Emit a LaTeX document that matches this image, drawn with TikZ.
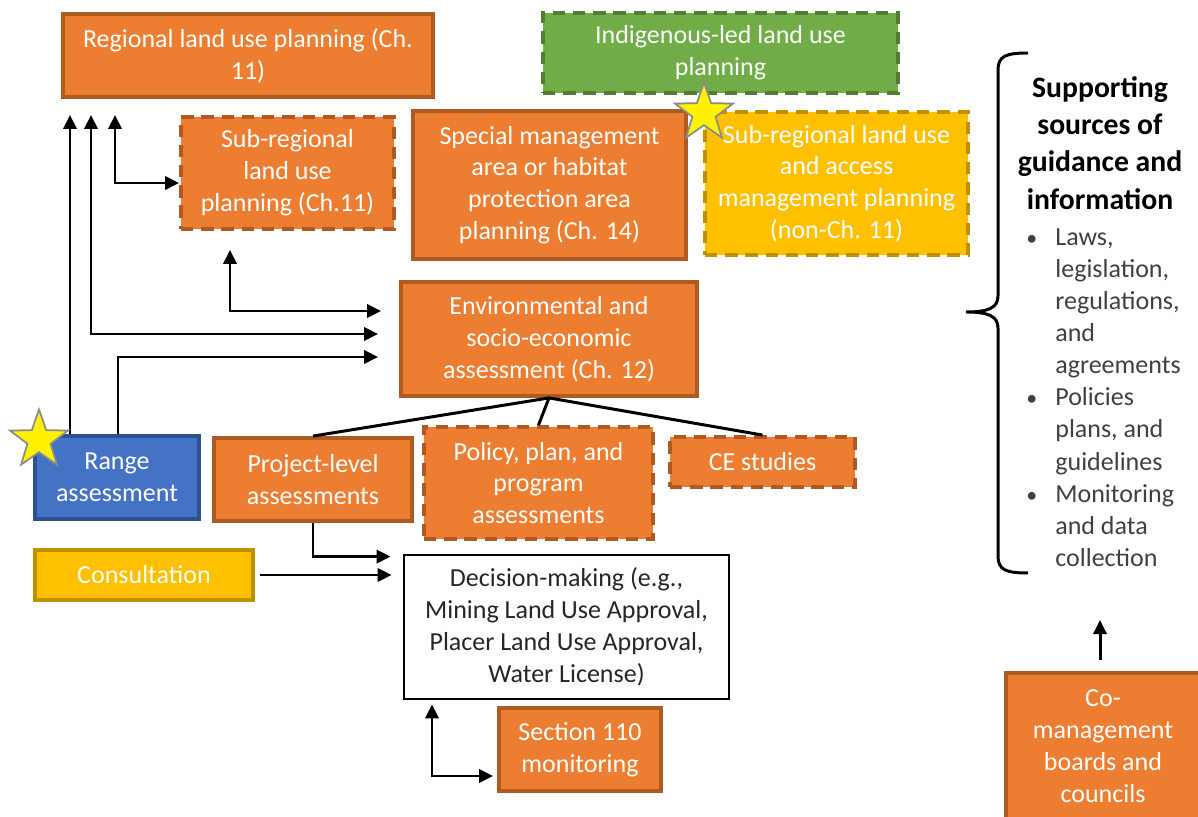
\documentclass[tikz,border=0pt]{standalone}
\usepackage{fontspec}
\setmainfont{Carlito}
\usetikzlibrary{arrows.meta, shapes.geometric}
\definecolor{boxorange}{HTML}{ED7D31}
\definecolor{edgeorange}{HTML}{AE5A21}
\definecolor{boxgreen}{HTML}{70AD47}
\definecolor{edgegreen}{HTML}{507E32}
\definecolor{boxyellow}{HTML}{FFC000}
\definecolor{edgeyellow}{HTML}{BF9000}
\definecolor{boxblue}{HTML}{4472C4}
\definecolor{edgeblue}{HTML}{2F528F}
\definecolor{listgray}{HTML}{404040}

\begin{document}
\begin{tikzpicture}[x=0.02cm, y=-0.02cm,
  box/.style={rectangle, inner sep=0pt, align=center, text=white,
    font=\fontsize{14.8}{18.1}\selectfont, line width=2.2pt},
  solidorange/.style={box, fill=boxorange, draw=edgeorange},
  dashorange/.style={solidorange, dash pattern=on 7pt off 4.5pt},
  dashgreen/.style={box, fill=boxgreen, draw=edgegreen, dash pattern=on 7pt off 4.5pt},
  dashyellow/.style={box, fill=boxyellow, draw=edgeyellow, dash pattern=on 7pt off 4.5pt},
  solidyellow/.style={box, fill=boxyellow, draw=edgeyellow},
  solidblue/.style={box, fill=boxblue, draw=edgeblue},
  plainbox/.style={box, fill=white, draw=black, text=black!85, line width=1.6pt},
  marker/.style={star, star points=5, star point ratio=2.5, minimum size=1.22cm,
    inner sep=0pt, fill=yellow, draw=black!45, line width=1pt},
  arr/.style={-{Triangle[length=8pt,width=7.5pt]}, line width=1.7pt},
  twoway/.style={{Triangle[length=8pt,width=7.5pt]}-{Triangle[length=8pt,width=7.5pt]}, line width=1.7pt},
  link/.style={line width=1.7pt}]
  \useasboundingbox (0,0) rectangle (1198,817);

  % planning boxes
  \node[solidorange, minimum width=7.4cm, minimum height=1.66cm] (regional) at (248,55.5) {Regional land use planning (Ch.\\11)};
  \node[dashgreen, minimum width=7.1cm, minimum height=1.6cm] (indig) at (720.5,53) {Indigenous-led land use\\planning};
  \node[dashorange, minimum width=4.26cm, minimum height=2.24cm] (subreg) at (287.5,173) {Sub-regional\\land use\\planning (Ch.11)};
  \node[solidorange, minimum width=5.46cm, minimum height=2.96cm] (special) at (549.5,185) {Special management\\area or habitat\\protection area\\planning (Ch. 14)};
  \node[dashyellow, minimum width=5.26cm, minimum height=2.86cm] (subaccess) at (836.5,183.5) {Sub-regional land use\\and access\\management planning\\(non-Ch. 11)};

  % assessment boxes
  \node[solidorange, minimum width=5.92cm, minimum height=2.28cm] (envassess) at (549,339) {Environmental and\\socio-economic\\assessment (Ch. 12)};
  \node[solidblue, minimum width=3.28cm, minimum height=1.66cm] (range) at (117,477.5) {Range\\assessment};
  \node[solidorange, minimum width=3.96cm, minimum height=1.66cm] (project) at (313,479.5) {Project-level\\assessments};
  \node[dashorange, minimum width=4.58cm, minimum height=2.24cm] (policy) at (538.5,483) {Policy, plan, and\\program\\assessments};
  \node[dashorange, minimum width=3.7cm, minimum height=1cm] (cestudies) at (762.5,462) {CE studies};

  % decisions
  \node[solidyellow, minimum width=4.36cm, minimum height=1cm] (consult) at (144,575) {Consultation};
  \node[plainbox, minimum width=6.5cm, minimum height=2.88cm] (decision) at (566.5,627) {Decision-making (e.g.,\\Mining Land Use Approval,\\Placer Land Use Approval,\\Water License)};
  \node[solidorange, minimum width=3.24cm, minimum height=1.66cm] (sec110) at (580,749.5) {Section 110\\monitoring};
  \node[solidorange, minimum width=3.88cm, minimum height=2.92cm] (comgmt) at (1103,746) {Co-\\management\\boards and\\councils};

  % guidance side
  \node[align=center, font=\fontsize{16.9}{21.2}\selectfont\bfseries] (heading) at (1100,143) {Supporting\\sources of\\guidance and\\information};
  \node[anchor=north west, inner sep=0pt, align=left, text=listgray,
    font=\fontsize{14.8}{18.3}\selectfont] (sources) at (1026,228)
    {\makebox[0.58cm][l]{\fontsize{12.5}{12}\selectfont\textbullet}Laws,\\
     \hspace*{0.58cm}legislation,\\
     \hspace*{0.58cm}regulations,\\
     \hspace*{0.58cm}and\\
     \hspace*{0.58cm}agreements\\
     \makebox[0.58cm][l]{\fontsize{12.5}{12}\selectfont\textbullet}Policies\\
     \hspace*{0.58cm}plans, and\\
     \hspace*{0.58cm}guidelines\\
     \makebox[0.58cm][l]{\fontsize{12.5}{12}\selectfont\textbullet}Monitoring\\
     \hspace*{0.58cm}and data\\
     \hspace*{0.58cm}collection};
  \draw[line width=1.7pt] (1028,53) .. controls (1006,53) and (998,56) .. (998,70) -- (998,296)
    .. controls (998,308) and (988,312) .. (966,312)
    .. controls (988,312) and (998,316) .. (998,328) -- (998,556)
    .. controls (998,570) and (1006,573) .. (1028,573);

  % lanes and arrow ends
  \coordinate (lane70) at (70,0);
  \coordinate (lane91) at (91,0);
  \coordinate (lane115) at (115,0);
  \coordinate (lane118) at (118,0);
  \coordinate (lane230) at (230,0);
  \coordinate (lane432) at (432,0);
  \coordinate (envA) at ([yshift=0.56cm]envassess.west);
  \coordinate (envB) at ([yshift=0.1cm]envassess.west);
  \coordinate (envC) at ([yshift=-0.36cm]envassess.west);
  \coordinate (subW) at ([yshift=-0.2cm]subreg.west);
  \coordinate (decN) at ([yshift=-0.06cm]decision.north west);
  \coordinate (secW) at ([yshift=-0.53cm]sec110.west);
  \coordinate (guide) at (1100,620);

  \draw[arr, shorten >=0.32cm] (range.north -| lane70) -- (regional.south -| lane70);
  \draw[twoway, shorten <=0.32cm, shorten >=0.42cm] (regional.south -| lane91) -- (envB -| lane91) -- (envB);
  \draw[twoway, shorten <=0.32cm] (regional.south -| lane115) -- (subW -| lane115) -- (subW);
  \draw[twoway, shorten <=0.38cm, shorten >=0.36cm] (subreg.south -| lane230) -- (envA -| lane230) -- (envA);
  \draw[arr, shorten >=0.42cm] (range.north -| lane118) -- (envC -| lane118) -- (envC);

  \draw[link] (envassess.south) -- (project.north);
  \draw[link] (envassess.south) -- (policy.north);
  \draw[link] (envassess.south) -- (cestudies.north);

  \draw[arr, shorten >=0.24cm] (project.south) -- (decN -| project.south) -- (decN);
  \draw[arr, shorten <=0.1cm, shorten >=0.22cm] (consult.east) -- (consult.east -| decision.west);
  \draw[twoway, shorten <=0.08cm, shorten >=0.08cm] (decision.south -| lane432) -- (secW -| lane432) -- (secW);
  \draw[arr, shorten <=0.22cm] (comgmt.north -| guide) -- (guide);

  % stars
  \node[marker] (star1) at (704,113) {};
  \node[marker] (star2) at (39,440) {};
\end{tikzpicture}
\end{document}
